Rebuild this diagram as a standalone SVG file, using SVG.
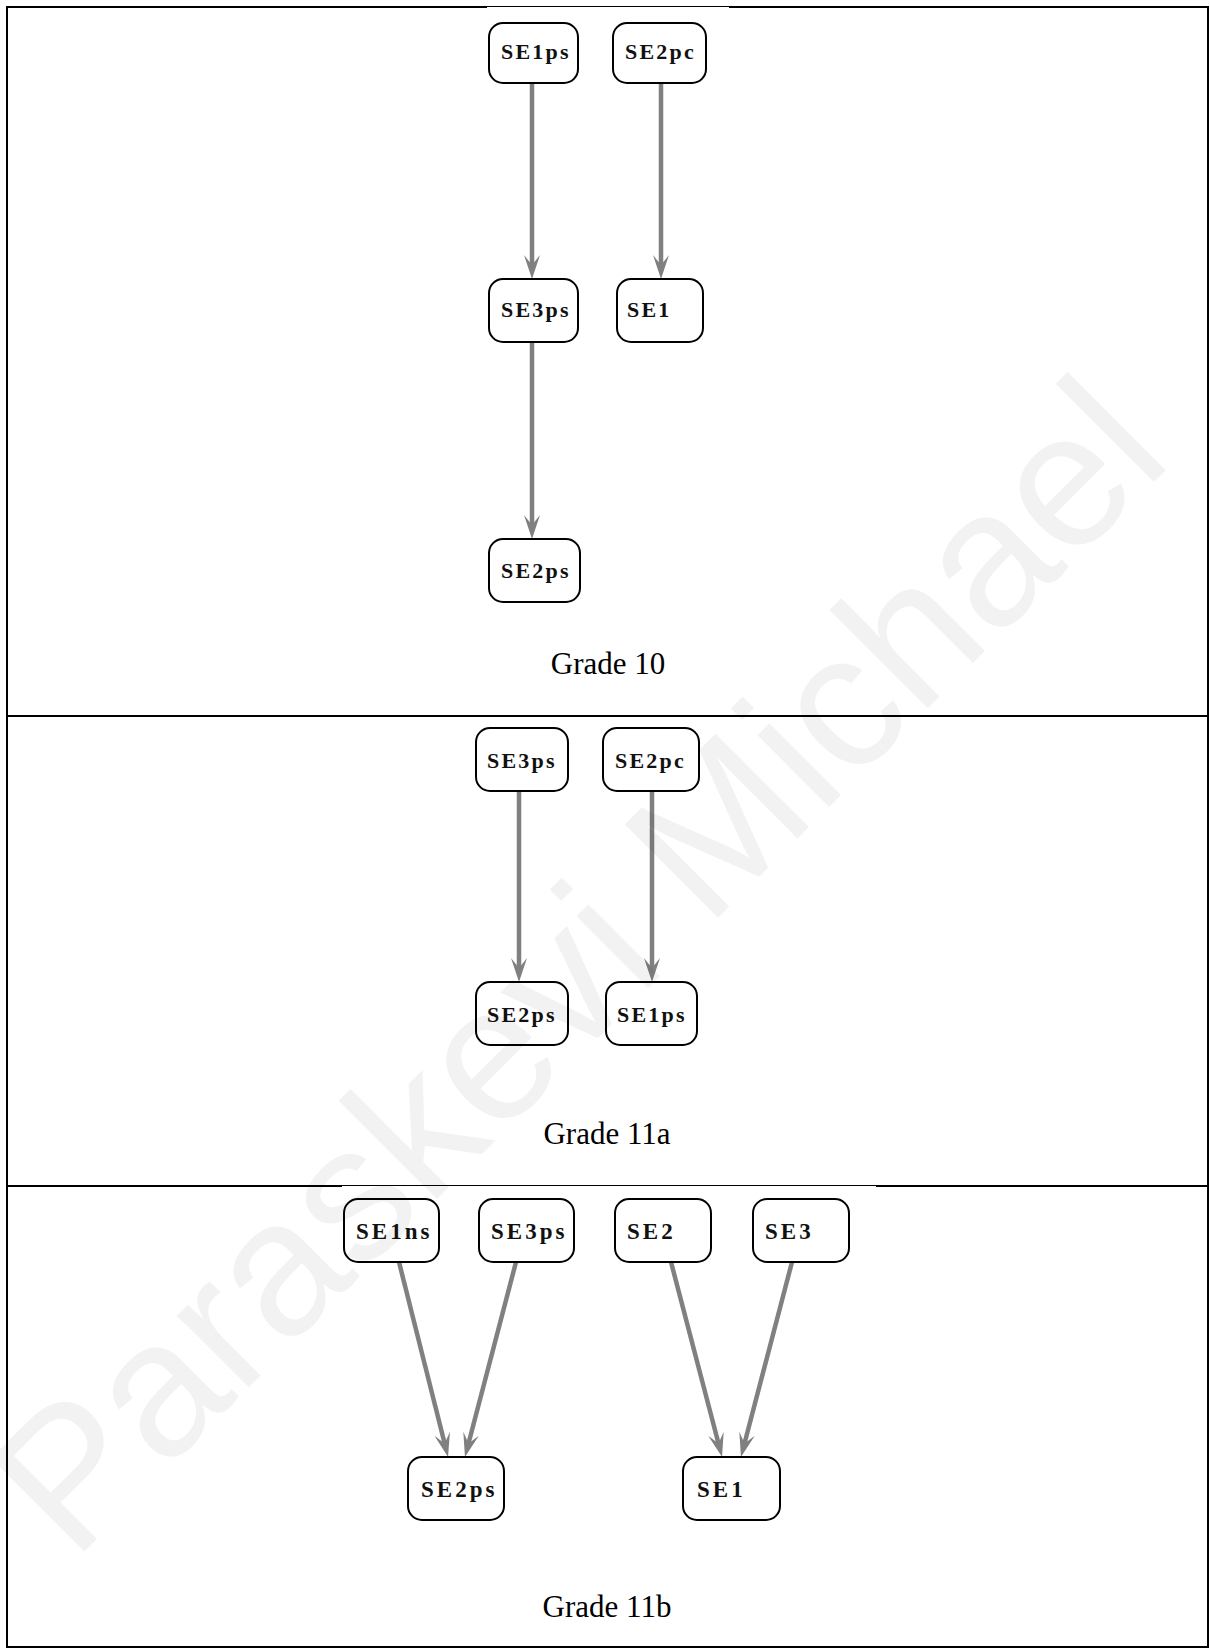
<svg xmlns="http://www.w3.org/2000/svg" width="1210" height="1649" viewBox="0 0 1210 1649">
  <defs>
    <style>
      .frame { stroke: #000; stroke-width: 2; fill: none; }
      .node rect { fill: #fff; stroke: #000; stroke-width: 2; }
      .node text { font-family: "Liberation Serif", "Times New Roman", serif; font-weight: bold; font-size: 22px; letter-spacing: 2.2px; fill: #111; }
      .node.big text { font-size: 23px; letter-spacing: 3px; }
      .edge { stroke: #808080; stroke-width: 4.5; fill: none; marker-end: url(#vee); }
      .caption { font-family: "Liberation Serif", "Times New Roman", serif; font-size: 31px; fill: #000; text-anchor: middle; }
      .mark { font-family: "Liberation Sans", Arial, sans-serif; font-size: 192px; fill: #000; fill-opacity: 0.05; text-anchor: middle; }
    </style>
    <marker id="vee" viewBox="-16 -10 32 20" refX="0" refY="0" markerWidth="32" markerHeight="20" markerUnits="userSpaceOnUse" orient="auto">
      <path d="M10,0 L-14,-8 L-4,0 L-14,8 Z" fill="#808080"/>
    </marker>
  </defs>

  <rect x="0" y="0" width="1210" height="1649" fill="#fff"/>

  <!-- table frame and row dividers -->
  <g id="frame">
    <rect class="frame" x="7" y="7" width="1201" height="1640"/>
    <line class="frame" x1="7" y1="716" x2="1208" y2="716"/>
    <line class="frame" x1="7" y1="1186" x2="1208" y2="1186"/>
    <!-- graph image backgrounds overlap the rules slightly -->
    <rect x="487" y="7" width="242" height="4" fill="#fff"/>
    <rect x="342" y="1186" width="534" height="4" fill="#fff"/>
  </g>

  <!-- connectors -->
  <g id="connectors">
    <line class="edge" x1="532" y1="83" x2="532" y2="269"/>
    <line class="edge" x1="661" y1="83" x2="661" y2="269"/>
    <line class="edge" x1="532" y1="342" x2="532" y2="529"/>

    <line class="edge" x1="519" y1="791" x2="519" y2="972"/>
    <line class="edge" x1="652" y1="791" x2="652" y2="972"/>

    <line class="edge" x1="399" y1="1262" x2="445.6" y2="1447.3"/>
    <line class="edge" x1="516" y1="1262" x2="467.5" y2="1447.3"/>
    <line class="edge" x1="671" y1="1262" x2="719.5" y2="1447.3"/>
    <line class="edge" x1="792" y1="1262" x2="743.5" y2="1447.3"/>
  </g>

  <!-- Grade 10 -->
  <g id="g10-SE1ps" class="node"><rect x="489" y="23" width="89" height="60" rx="14"/><text x="501" y="59">SE1ps</text></g>
  <g id="g10-SE2pc" class="node"><rect x="613" y="23" width="93" height="60" rx="14"/><text x="625" y="59">SE2pc</text></g>
  <g id="g10-SE3ps" class="node"><rect x="489" y="279" width="89" height="63" rx="14"/><text x="501" y="317">SE3ps</text></g>
  <g id="g10-SE1" class="node"><rect x="617" y="279" width="86" height="63" rx="14"/><text x="627" y="317">SE1</text></g>
  <g id="g10-SE2ps" class="node"><rect x="489" y="539" width="91" height="63" rx="14"/><text x="501" y="578">SE2ps</text></g>
  <text class="caption" x="608" y="674">Grade 10</text>

  <!-- Grade 11a -->
  <g id="g11a-SE3ps" class="node"><rect x="476" y="728" width="92" height="63" rx="14"/><text x="487" y="768">SE3ps</text></g>
  <g id="g11a-SE2pc" class="node"><rect x="603" y="728" width="96" height="63" rx="14"/><text x="615" y="768">SE2pc</text></g>
  <g id="g11a-SE2ps" class="node"><rect x="476" y="982" width="92" height="63" rx="14"/><text x="487" y="1022">SE2ps</text></g>
  <g id="g11a-SE1ps" class="node"><rect x="606" y="982" width="91" height="63" rx="14"/><text x="617" y="1022">SE1ps</text></g>
  <text class="caption" x="607" y="1144">Grade 11a</text>

  <!-- Grade 11b -->
  <g id="g11b-SE1ns" class="node big"><rect x="344" y="1199" width="95" height="63" rx="14"/><text x="356" y="1239">SE1ns</text></g>
  <g id="g11b-SE3ps" class="node big"><rect x="479" y="1199" width="95" height="63" rx="14"/><text x="491" y="1239">SE3ps</text></g>
  <g id="g11b-SE2" class="node big"><rect x="615" y="1199" width="96" height="63" rx="14"/><text x="627" y="1239">SE2</text></g>
  <g id="g11b-SE3" class="node big"><rect x="753" y="1199" width="96" height="63" rx="14"/><text x="765" y="1239">SE3</text></g>
  <g id="g11b-SE2ps" class="node big"><rect x="408" y="1457" width="96" height="63" rx="14"/><text x="421" y="1497">SE2ps</text></g>
  <g id="g11b-SE1" class="node big"><rect x="683" y="1457" width="97" height="63" rx="14"/><text x="697" y="1497">SE1</text></g>
  <text class="caption" x="607" y="1617">Grade 11b</text>

  <!-- diagonal watermark -->
  <text class="mark" transform="translate(624 1012) rotate(-45)">Paraskevi Michael</text>
</svg>
